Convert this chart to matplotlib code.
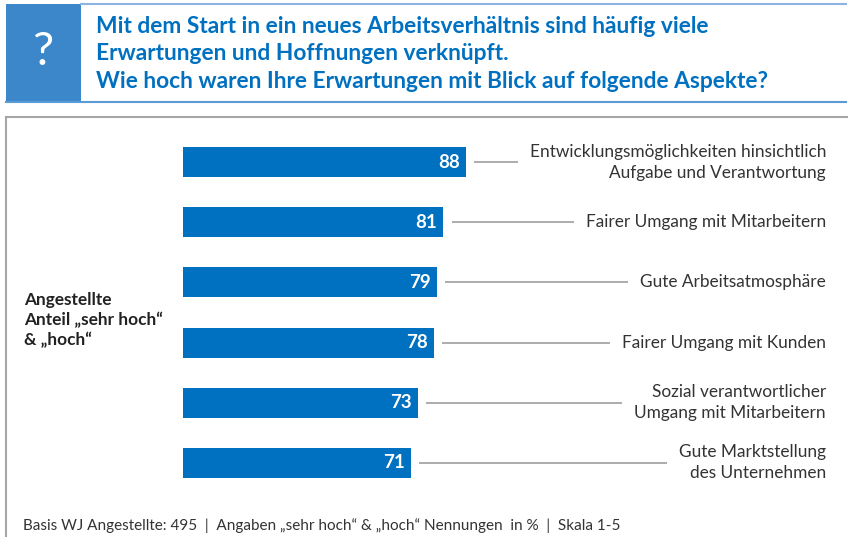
import matplotlib
matplotlib.use("Agg")
import matplotlib.pyplot as plt
from matplotlib.patches import Rectangle
from matplotlib.lines import Line2D

plt.rcParams['font.family'] = ['Lato', 'DejaVu Sans']

# data
labels = [
    "Entwicklungsmöglichkeiten hinsichtlich\nAufgabe und Verantwortung",
    "Fairer Umgang mit Mitarbeitern",
    "Gute Arbeitsatmosphäre",
    "Fairer Umgang mit Kunden",
    "Sozial verantwortlicher\nUmgang mit Mitarbeitern",
    "Gute Marktstellung\ndes Unternehmen",
]
values = [88, 81, 79, 78, 73, 71]

title = ("Mit dem Start in ein neues Arbeitsverhältnis sind häufig viele\n"
         "Erwartungen und Hoffnungen verknüpft.\n"
         "Wie hoch waren Ihre Erwartungen mit Blick auf folgende Aspekte?")
side_label = "Angestellte\nAnteil „sehr hoch“\n& „hoch“"
footer = "Basis WJ Angestellte: 495  |  Angaben „sehr hoch“ & „hoch“ Nennungen  in %  |  Skala 1-5"

W, H = 848, 537
BLUE = '#0070c0'
TXT = '#333333'

fig = plt.figure(figsize=(W / 100, H / 100), dpi=100)


def fx(x):
    return x / W


def fy(y):
    return 1 - y / H


# header
fig.patches.append(Rectangle((fx(6), fy(102)), fx(75), 98 / H, transform=fig.transFigure,
                             facecolor='#3b87c9', edgecolor='none'))
fig.add_artist(Line2D([fx(81), fx(846)], [fy(4), fy(4)], color='#8cb4e0', lw=1.5))
fig.add_artist(Line2D([fx(6), fx(846)], [fy(102), fy(102)], color='#5b9bd5', lw=1.5))
fig.text(fx(43), fy(52), "?", color='white', fontsize=34,
         ha='center', va='center')
fig.text(fx(96), fy(54), title, color=BLUE, fontsize=16.4, fontweight='bold',
         ha='left', va='center', linespacing=1.38)

# frame
fig.patches.append(Rectangle((fx(6), fy(560)), fx(860), 443 / H, transform=fig.transFigure,
                             facecolor='none', edgecolor='#a6a6a6', lw=1.5))

fig.text(fx(24), fy(320), side_label, color='#222222', fontsize=12.4, fontweight='bold',
         ha='left', va='center', linespacing=1.3)
fig.text(fx(23), fy(526), footer, color=TXT, fontsize=11, ha='left', va='center')

# bars
ax = fig.add_axes([fx(183), fy(493), fx(643), 361 / H])
ax.set_xlim(0, 643 / 3.213)
ax.set_ylim(5.5, -0.5)
ax.axis('off')

pos = list(range(len(values)))
ax.barh(pos, values, height=0.5, color=BLUE)

texts = []
for i, (v, lab) in enumerate(zip(values, labels)):
    ax.annotate(str(v), xy=(v, i), xytext=(-6, 0), textcoords='offset pixels',
                ha='right', va='center', color='white', fontsize=13.5, fontweight='bold')
    t = ax.text(ax.get_xlim()[1], i, lab, ha='right', va='center', multialignment='right',
                color=TXT, fontsize=12.4, linespacing=1.38)
    texts.append(t)

fig.canvas.draw()
inv = ax.transData.inverted()
for i, (v, t) in enumerate(zip(values, texts)):
    bb = t.get_window_extent()
    x_end = inv.transform((bb.x0 - 12, 0))[0]
    ax.plot([v + 2.6, x_end], [i, i], color='#a6a6a6', lw=1.3, solid_capstyle='butt')

fig.savefig('out.png', dpi=100)
